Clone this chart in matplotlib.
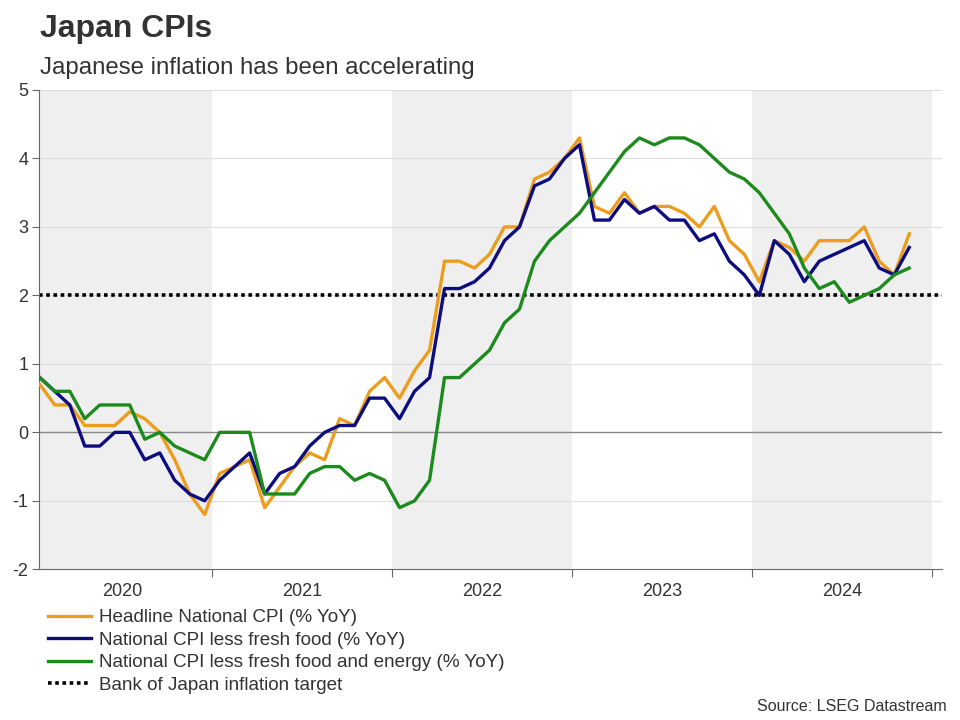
import numpy as np
import matplotlib
matplotlib.use("Agg")
import matplotlib.pyplot as plt

plt.rcParams['font.family'] = ['Liberation Sans', 'DejaVu Sans']
plt.rcParams['axes.unicode_minus'] = False

# monthly YoY %, Jan 2020 .. Nov 2024
headline = [0.7, 0.4, 0.4, 0.1, 0.1, 0.1, 0.3, 0.2, 0.0, -0.4, -0.9, -1.2,
            -0.6, -0.5, -0.4, -1.1, -0.8, -0.5, -0.3, -0.4, 0.2, 0.1, 0.6, 0.8,
            0.5, 0.9, 1.2, 2.5, 2.5, 2.4, 2.6, 3.0, 3.0, 3.7, 3.8, 4.0,
            4.3, 3.3, 3.2, 3.5, 3.2, 3.3, 3.3, 3.2, 3.0, 3.3, 2.8, 2.6,
            2.2, 2.8, 2.7, 2.5, 2.8, 2.8, 2.8, 3.0, 2.5, 2.3, 2.9]
core = [0.8, 0.6, 0.4, -0.2, -0.2, 0.0, 0.0, -0.4, -0.3, -0.7, -0.9, -1.0,
        -0.7, -0.5, -0.3, -0.9, -0.6, -0.5, -0.2, 0.0, 0.1, 0.1, 0.5, 0.5,
        0.2, 0.6, 0.8, 2.1, 2.1, 2.2, 2.4, 2.8, 3.0, 3.6, 3.7, 4.0,
        4.2, 3.1, 3.1, 3.4, 3.2, 3.3, 3.1, 3.1, 2.8, 2.9, 2.5, 2.3,
        2.0, 2.8, 2.6, 2.2, 2.5, 2.6, 2.7, 2.8, 2.4, 2.3, 2.7]
core_core = [0.8, 0.6, 0.6, 0.2, 0.4, 0.4, 0.4, -0.1, 0.0, -0.2, -0.3, -0.4,
             0.0, 0.0, 0.0, -0.9, -0.9, -0.9, -0.6, -0.5, -0.5, -0.7, -0.6, -0.7,
             -1.1, -1.0, -0.7, 0.8, 0.8, 1.0, 1.2, 1.6, 1.8, 2.5, 2.8, 3.0,
             3.2, 3.5, 3.8, 4.1, 4.3, 4.2, 4.3, 4.3, 4.2, 4.0, 3.8, 3.7,
             3.5, 3.2, 2.9, 2.4, 2.1, 2.2, 1.9, 2.0, 2.1, 2.3, 2.4]
target = 2.0
years = ['2020', '2021', '2022', '2023', '2024']

labels = ['Headline National CPI (% YoY)',
          'National CPI less fresh food (% YoY)',
          'National CPI less fresh food and energy (% YoY)',
          'Bank of Japan inflation target']
colors = ['#EC9D1E', '#0D0D80', '#1D8A1D']

# x in months since 1 Jan 2020, points at mid-month
x = np.arange(len(headline)) + 0.5

fig = plt.figure(figsize=(9.6, 7.2), dpi=100)
ax = fig.add_axes([0.041, 0.2093, 0.94, 0.6657])

for i in range(len(years)):
    if i % 2 == 0:
        ax.axvspan(i * 12, (i + 1) * 12, color='#efefef', lw=0, zorder=0)

for v in range(-2, 6):
    if v == 0:
        ax.axhline(v, color='#888888', lw=1, zorder=1)
    elif v != -2:
        ax.axhline(v, color='#dddddd', lw=0.8, zorder=1)

ax.axhline(target, color='black', lw=2.6, ls=(0, (1, 1)), zorder=2, label=labels[3])
ax.plot(x, headline, color=colors[0], lw=2.4, zorder=3, label=labels[0])
ax.plot(x, core, color=colors[1], lw=2.4, zorder=4, label=labels[1])
ax.plot(x, core_core, color=colors[2], lw=2.4, zorder=5, label=labels[2])

ax.set_xlim(0.47, 60.67)
ax.set_ylim(-2, 5)

ax.set_xticks([12, 24, 36, 48, 60])
ax.set_xticklabels([])
ax.set_xticks([6 + 12 * i for i in range(len(years))], minor=True)
ax.set_xticklabels(years, minor=True)
ax.tick_params(axis='x', which='major', length=6, color='#666666', direction='out')
ax.tick_params(axis='x', which='minor', length=0, pad=10, labelsize=13, labelcolor='#333333')
ax.set_yticks(range(-2, 6))
ax.tick_params(axis='y', length=5, color='#666666', labelsize=13, labelcolor='#333333', pad=3)

for s in ['top', 'right']:
    ax.spines[s].set_visible(False)
ax.spines['left'].set_color('#666666')
ax.spines['bottom'].set_color('#666666')

fig.text(0.042, 0.948, 'Japan CPIs', fontsize=23, fontweight='bold', color='#333333', va='baseline')
fig.text(0.042, 0.897, 'Japanese inflation has been accelerating', fontsize=17.3, color='#333333', va='baseline')

h, l = ax.get_legend_handles_labels()
order = [1, 2, 3, 0]
leg = fig.legend([h[k] for k in order], [l[k] for k in order], loc='upper left',
                 bbox_to_anchor=(0.05, 0.154), frameon=False, fontsize=13.6,
                 handlelength=2.3, handletextpad=0.4, labelspacing=0.28,
                 borderaxespad=0, borderpad=0)
for t in leg.get_texts():
    t.set_color('#333333')

fig.text(0.986, 0.008, 'Source: LSEG Datastream', fontsize=11.5, color='#333333', ha='right', va='bottom')

fig.savefig('out.png', dpi=100)
